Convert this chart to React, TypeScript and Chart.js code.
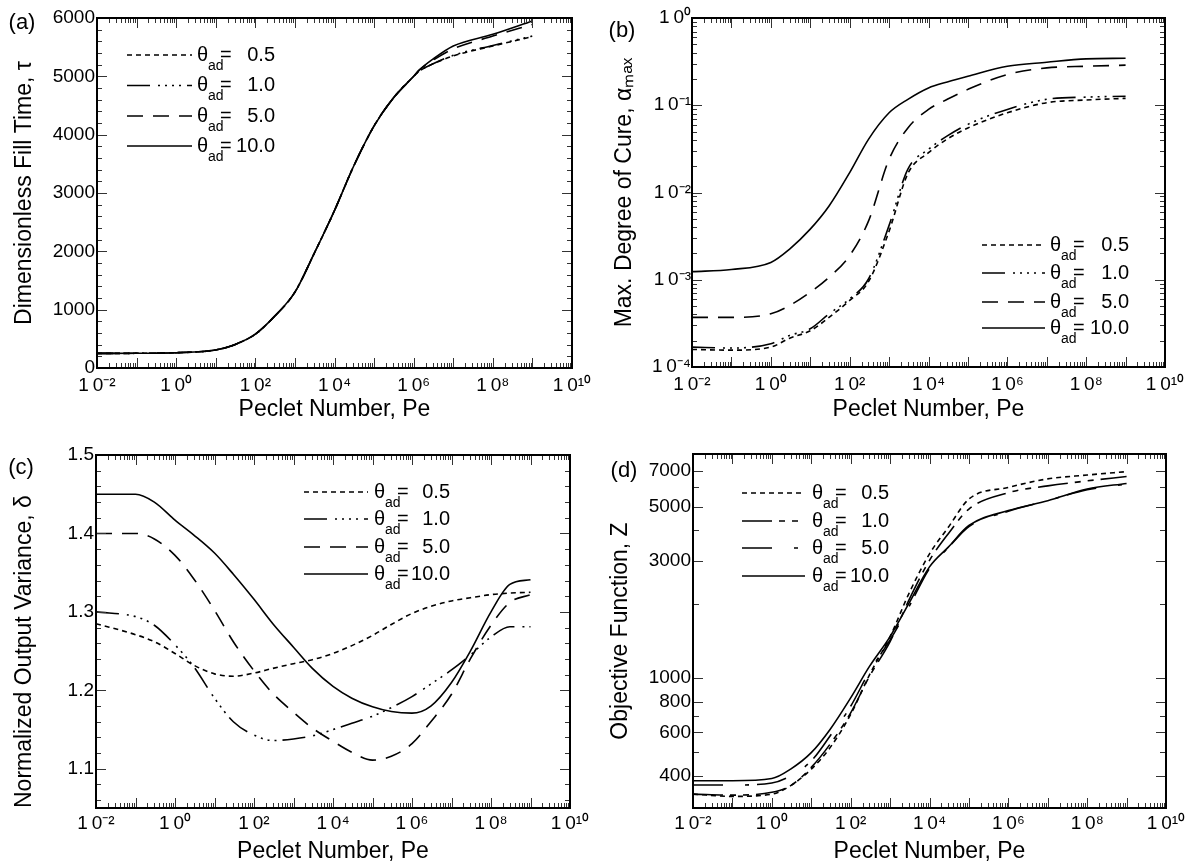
import React, { useEffect, useRef } from "react";
import { Chart, registerables } from "chart.js";

Chart.register(...registerables);

const FONT = '"Liberation Sans", Arial, Helvetica, sans-serif';

// ---------- shared axis data ----------
const xTickValues = [1e-2, 1e0, 1e2, 1e4, 1e6, 1e8, 1e10];
const xTickLabels = ["1\u20090⁻²", "1\u20090⁰", "1\u20090²", "1\u20090⁴", "1\u20090⁶", "1\u20090⁸", "1\u20090¹⁰"];
const xDecades = [1e-2, 1e-1, 1e0, 1e1, 1e2, 1e3, 1e4, 1e5, 1e6, 1e7, 1e8, 1e9, 1e10];
const minorMultipliers = [2, 3, 4, 5, 6, 7, 8, 9];
const thetaLabels = ["0.5", "1.0", "5.0", "10.0"];

// ---------- panel (a): dimensionless fill time ----------
const peA = [0.01, 0.1, 1, 10, 30, 100, 300, 1e3, 3e3, 1e4, 3e4, 1e5, 3e5, 1e6, 1.4e6, 3e6, 1e7, 1e8, 1e9];
const tauA05 = [250, 252, 262, 310, 400, 580, 880, 1300, 1950, 2700, 3450, 4150, 4620, 5000, 5090, 5210, 5350, 5520, 5680];
const tauA1 = [250, 252, 262, 310, 400, 580, 880, 1300, 1950, 2700, 3450, 4150, 4620, 5000, 5090, 5210, 5360, 5530, 5690];
const tauA5 = [250, 252, 262, 310, 400, 580, 880, 1300, 1950, 2700, 3450, 4150, 4620, 5000, 5110, 5270, 5470, 5690, 5890];
const tauA10 = [250, 252, 262, 310, 400, 580, 880, 1300, 1950, 2700, 3450, 4150, 4620, 5000, 5110, 5290, 5520, 5720, 5950];
const yTicksA = [0, 1000, 2000, 3000, 4000, 5000, 6000];
const yLabelsA = ["0", "1000", "2000", "3000", "4000", "5000", "6000"];

// ---------- panel (b): max degree of cure ----------
const peB = [0.01, 0.1, 1, 3, 10, 30, 100, 300, 1e3, 3e3, 1e4, 3e4, 1e5, 1e6, 1e7, 1e8, 1e9];
const alphaB05 = [1.59e-4, 1.56e-4, 1.69e-4, 2.14e-4, 2.6e-4, 3.7e-4, 5.8e-4, 9.5e-4, 3.6e-3, 1.65e-2, 2.86e-2, 4.1e-2, 5.5e-2, 8.2e-2, 0.107, 0.115, 0.12];
const alphaB1 = [1.69e-4, 1.65e-4, 1.85e-4, 2.3e-4, 2.74e-4, 4.07e-4, 6.04e-4, 1.02e-3, 4.2e-3, 1.85e-2, 3.13e-2, 4.45e-2, 6.04e-2, 8.96e-2, 0.117, 0.124, 0.127];
const alphaB5 = [3.7e-4, 3.7e-4, 4.07e-4, 5.07e-4, 7.2e-4, 1.07e-3, 1.89e-3, 4.7e-3, 2.4e-2, 5.5e-2, 8.96e-2, 0.117, 0.152, 0.225, 0.268, 0.28, 0.288];
const alphaB10 = [1.24e-3, 1.31e-3, 1.58e-3, 2.25e-3, 3.8e-3, 7.0e-3, 1.69e-2, 4.07e-2, 8.2e-2, 0.117, 0.158, 0.185, 0.215, 0.28, 0.311, 0.34, 0.346];
const yTicksB = [1e-4, 1e-3, 1e-2, 1e-1, 1e0];
const yLabelsB = ["1\u20090⁻⁴", "1\u20090⁻³", "1\u20090⁻²", "1\u20090⁻¹", "1\u20090⁰"];

// ---------- panel (c): normalized output variance ----------
const peC = [0.01, 0.1, 0.3, 1, 3, 10, 30, 100, 300, 1e3, 3e3, 1e4, 3e4, 1e5, 3e5, 1e6, 3e6, 1e7, 3e7, 1e8, 3e8, 1e9];
const deltaC05 = [1.285, 1.271, 1.262, 1.247, 1.232, 1.221, 1.218, 1.222, 1.228, 1.234, 1.239, 1.247, 1.257, 1.27, 1.284, 1.298, 1.307, 1.314, 1.318, 1.322, 1.324, 1.325];
const deltaC1 = [1.3, 1.294, 1.283, 1.258, 1.23, 1.19, 1.16, 1.143, 1.136, 1.138, 1.142, 1.15, 1.158, 1.167, 1.178, 1.192, 1.208, 1.226, 1.245, 1.268, 1.281, 1.281];
const deltaC5 = [1.4, 1.4, 1.393, 1.372, 1.342, 1.302, 1.262, 1.225, 1.196, 1.172, 1.152, 1.135, 1.121, 1.111, 1.116, 1.132, 1.16, 1.195, 1.24, 1.283, 1.312, 1.322];
const deltaC10 = [1.45, 1.45, 1.44, 1.417, 1.398, 1.375, 1.348, 1.316, 1.285, 1.255, 1.228, 1.205, 1.19, 1.179, 1.173, 1.171, 1.18, 1.21, 1.25, 1.3, 1.335, 1.341];
const yTicksC = [1.1, 1.2, 1.3, 1.4, 1.5];
const yLabelsC = ["1.1", "1.2", "1.3", "1.4", "1.5"];

// ---------- panel (d): objective function ----------
const peD = [0.01, 0.1, 1, 3, 10, 30, 100, 300, 1e3, 3e3, 1e4, 3e4, 1e5, 1e6, 1e7, 1e8, 1e9];
const zD05 = [336, 329, 336, 364, 425, 520, 710, 1030, 1475, 2210, 3210, 4120, 5370, 5990, 6490, 6730, 6950];
const zD1 = [336, 333, 342, 364, 432, 537, 721, 1016, 1408, 2078, 3020, 3880, 4890, 5700, 6080, 6370, 6640];
const zD5 = [366, 366, 373, 399, 459, 580, 767, 1064, 1430, 1950, 2800, 3400, 4150, 4790, 5290, 5860, 6180];
const zD10 = [381, 381, 389, 425, 496, 617, 830, 1115, 1475, 2015, 2840, 3420, 4190, 4820, 5290, 5900, 6220];
const yTicksD = [400, 600, 800, 1000, 3000, 5000, 7000];
const yLabelsD = ["400", "600", "800", "1000", "3000", "5000", "7000"];
const yExtraTicksD = [500, 700, 2000, 4000, 6000];

// ---------- helpers ----------
const pts = (xs: number[], ys: number[]) => xs.map((x, i) => ({ x, y: ys[i] }));

function logDecadeMarks(decades: number[]) {
  const out: [number, number][] = [];
  decades.forEach((d, i) => {
    out.push([d, 10]);
    if (i < decades.length - 1) minorMultipliers.forEach((m) => out.push([m * d, 5]));
  });
  return out;
}
function linMarks(major: number[], lo: number, hi: number, step: number) {
  const out: [number, number][] = major.map((v) => [v, 10] as [number, number]);
  const n = Math.round((hi - lo) / step);
  for (let k = 0; k <= n; k++) {
    const v = +(lo + k * step).toFixed(6);
    if (!major.some((m) => Math.abs(m - v) < 1e-9)) out.push([v, 5]);
  }
  return out;
}

const framePlugin = {
  id: "frameDeco",
  afterDatasetsDraw(chart: any, _args: any, opts: any) {
    const { ctx, chartArea: ca } = chart;
    const xs = chart.scales.x;
    const ys = chart.scales.y;
    const offL = opts.offLeft;
    const offT = opts.offTop;
    ctx.save();
    // inward ticks on all four sides
    ctx.strokeStyle = "#333";
    ctx.lineWidth = 1;
    ctx.setLineDash([]);
    ctx.beginPath();
    for (const [v, len] of opts.xMarks) {
      const px = Math.round(xs.getPixelForValue(v)) + 0.5;
      if (px < ca.left - 0.5 || px > ca.right + 0.5) continue;
      ctx.moveTo(px, ca.bottom);
      ctx.lineTo(px, ca.bottom - len);
      ctx.moveTo(px, ca.top);
      ctx.lineTo(px, ca.top + len);
    }
    for (const [v, len] of opts.yMarks) {
      const py = Math.round(ys.getPixelForValue(v)) + 0.5;
      if (py < ca.top - 0.5 || py > ca.bottom + 0.5) continue;
      ctx.moveTo(ca.left, py);
      ctx.lineTo(ca.left + len, py);
      ctx.moveTo(ca.right, py);
      ctx.lineTo(ca.right - len, py);
    }
    ctx.stroke();
    // frame
    ctx.strokeStyle = "#000";
    ctx.lineWidth = 2;
    ctx.strokeRect(ca.left, ca.top, ca.right - ca.left, ca.bottom - ca.top);
    // panel label
    ctx.fillStyle = "#000";
    ctx.font = `22px ${FONT}`;
    ctx.textAlign = "center";
    ctx.textBaseline = "middle";
    ctx.fillText(opts.label, opts.labelX - offL, opts.labelY - offT);
    // legend
    const lg = opts.legend;
    chart.data.datasets.forEach((ds: any, i: number) => {
      const y = lg.rows[i] - offT;
      ctx.strokeStyle = "#000";
      ctx.lineWidth = ds.borderWidth;
      ctx.setLineDash(ds.borderDash || []);
      ctx.beginPath();
      ctx.moveTo(lg.x0 - offL, y);
      ctx.lineTo(lg.x1 - offL, y);
      ctx.stroke();
      ctx.setLineDash([]);
      const tx = lg.tx - offL;
      ctx.textAlign = "left";
      ctx.textBaseline = "middle";
      ctx.font = `20px ${FONT}`;
      ctx.fillText("θ", tx, y);
      ctx.font = `14px ${FONT}`;
      ctx.fillText("ad", tx + 11, y + 11);
      ctx.font = `20px ${FONT}`;
      ctx.fillText("=", tx + 23, y);
      ctx.textAlign = "right";
      ctx.fillText(thetaLabels[i], lg.vr - offL, y);
    });
    ctx.restore();
  },
};

type PanelCfg = {
  left: number; top: number; w: number; h: number;
  padTop: number; padRight: number; yW: number; xH: number;
  xTickPad: number; yTickPad: number; xTitlePad: number; yTitlePad: number;
  yTitle: string; yTitleAlign?: string;
  yType: "linear" | "logarithmic"; yMin: number; yMax: number;
  yTicks: number[]; yLabels: string[]; yMarks: [number, number][];
  pe: number[]; series: number[][]; dashes: number[][];
  label: string; labelX: number; labelY: number;
  legend: { x0: number; x1: number; tx: number; vr: number; rows: number[] };
};

function buildConfig(p: PanelCfg): any {
  return {
    type: "line",
    data: {
      datasets: p.series.map((s, i) => ({
        label: thetaLabels[i],
        data: pts(p.pe, s),
        borderColor: "#000",
        borderWidth: 1.6,
        borderDash: p.dashes[i],
        pointRadius: 0,
        fill: false,
        cubicInterpolationMode: "monotone",
      })),
    },
    options: {
      responsive: false,
      animation: false,
      events: [],
      layout: { padding: { left: 0, top: p.padTop, right: p.padRight, bottom: 0 } },
      plugins: {
        legend: { display: false },
        tooltip: { enabled: false },
        frameDeco: {
          offLeft: p.left, offTop: p.top,
          xMarks: logDecadeMarks(xDecades), yMarks: p.yMarks,
          label: p.label, labelX: p.labelX, labelY: p.labelY,
          legend: p.legend,
        },
      },
      scales: {
        x: {
          type: "logarithmic",
          position: "bottom",
          min: 1e-2,
          max: 1e10,
          grid: { display: false, drawTicks: false },
          border: { display: false },
          ticks: {
            autoSkip: false,
            maxRotation: 0,
            minRotation: 0,
            padding: p.xTickPad,
            color: "#000",
            font: { family: FONT, size: 19 },
            callback: (_v: any, i: number) => xTickLabels[i],
          },
          afterBuildTicks: (s: any) => { s.ticks = xTickValues.map((v) => ({ value: v })); },
          afterFit: (s: any) => { s.height = p.xH; s.paddingLeft = 0; s.paddingRight = 0; },
          title: {
            display: true,
            text: "Peclet Number, Pe",
            color: "#000",
            font: { family: FONT, size: 23 },
            padding: { top: 0, bottom: p.xTitlePad },
          },
        },
        y: {
          type: p.yType,
          position: "left",
          min: p.yMin,
          max: p.yMax,
          grid: { display: false, drawTicks: false },
          border: { display: false },
          ticks: {
            autoSkip: false,
            padding: p.yTickPad,
            color: "#000",
            font: { family: FONT, size: 19 },
            callback: (_v: any, i: number) => p.yLabels[i],
          },
          afterBuildTicks: (s: any) => { s.ticks = p.yTicks.map((v) => ({ value: v })); },
          afterFit: (s: any) => { s.width = p.yW; s.paddingTop = 0; s.paddingBottom = 0; },
          title: {
            display: true,
            text: p.yTitle,
            color: "#000",
            align: p.yTitleAlign || "center",
            font: { family: FONT, size: 23 },
            padding: { top: p.yTitlePad, bottom: 0 },
          },
        },
      },
    },
    plugins: [framePlugin],
  };
}

const dashStd = [[5, 4], [23, 8, 2, 5, 2, 5, 2, 5, 2, 6], [16, 10], []];
const dashD = [[5, 4], [30, 7, 6, 7, 6, 7], [30, 22, 4, 8], []];

const panels: PanelCfg[] = [
  {
    left: 0, top: 0, w: 592, h: 431,
    padTop: 18, padRight: 20, yW: 97, xH: 63,
    xTickPad: 6, yTickPad: 2, xTitlePad: 8, yTitlePad: 11,
    yTitle: "Dimensionless Fill Time, τ",
    yType: "linear", yMin: 0, yMax: 6000,
    yTicks: yTicksA, yLabels: yLabelsA, yMarks: linMarks(yTicksA, 0, 6000, 200),
    pe: peA, series: [tauA05, tauA1, tauA5, tauA10], dashes: dashStd,
    label: "(a)", labelX: 22, labelY: 23,
    legend: { x0: 127, x1: 192, tx: 197, vr: 275, rows: [55, 85.5, 116, 146] },
  },
  {
    left: 592, top: 0, w: 593, h: 431,
    padTop: 18, padRight: 20, yW: 100, xH: 64,
    xTickPad: 6, yTickPad: 1, xTitlePad: 8, yTitlePad: 19,
    yTitle: "Max. Degree of Cure, αₘₐₓ",
    yType: "logarithmic", yMin: 1e-4, yMax: 1,
    yTicks: yTicksB, yLabels: yLabelsB, yMarks: logDecadeMarks(yTicksB),
    pe: peB, series: [alphaB05, alphaB1, alphaB5, alphaB10], dashes: dashStd,
    label: "(b)", labelX: 622, labelY: 31,
    legend: { x0: 982, x1: 1045, tx: 1050, vr: 1129, rows: [245, 273, 302, 328] },
  },
  {
    left: 0, top: 431, w: 592, h: 431,
    padTop: 24, padRight: 22, yW: 96, xH: 54,
    xTickPad: 4, yTickPad: 2, xTitlePad: -3, yTitlePad: 11,
    yTitle: "Normalized Output Variance, δ", yTitleAlign: "start",
    yType: "linear", yMin: 1.05, yMax: 1.5,
    yTicks: yTicksC, yLabels: yLabelsC, yMarks: linMarks(yTicksC, 1.06, 1.48, 0.02),
    pe: peC, series: [deltaC05, deltaC1, deltaC5, deltaC10], dashes: dashStd,
    label: "(c)", labelX: 21, labelY: 468,
    legend: { x0: 304, x1: 368, tx: 374, vr: 450, rows: [492, 519, 547, 574] },
  },
  {
    left: 592, top: 431, w: 593, h: 431,
    padTop: 23, padRight: 19, yW: 101, xH: 54,
    xTickPad: 4, yTickPad: 2, xTitlePad: -3, yTitlePad: 15,
    yTitle: "Objective Function, Z",
    yType: "logarithmic", yMin: 295, yMax: 8200,
    yTicks: yTicksD, yLabels: yLabelsD,
    yMarks: [...yTicksD.map((v) => [v, 10] as [number, number]), ...yExtraTicksD.map((v) => [v, 6] as [number, number])],
    pe: peD, series: [zD05, zD1, zD5, zD10], dashes: dashD,
    label: "(d)", labelX: 624, labelY: 471,
    legend: { x0: 742, x1: 805, tx: 812, vr: 889, rows: [493, 521, 548, 576] },
  },
];

function Panel({ cfg }: { cfg: PanelCfg }) {
  const ref = useRef<HTMLCanvasElement>(null);
  useEffect(() => {
    const chart = new Chart(ref.current as HTMLCanvasElement, buildConfig(cfg));
    return () => chart.destroy();
  }, [cfg]);
  return (
    <canvas
      ref={ref}
      width={cfg.w}
      height={cfg.h}
      style={{ position: "absolute", left: cfg.left, top: cfg.top, width: cfg.w, height: cfg.h }}
    />
  );
}

export default function App() {
  return (
    <div
      style={{
        position: "fixed",
        left: 0,
        top: 0,
        width: 1185,
        height: 862,
        background: "#fff",
        overflow: "hidden",
      }}
    >
      {panels.map((p, i) => (
        <Panel key={i} cfg={p} />
      ))}
    </div>
  );
}
